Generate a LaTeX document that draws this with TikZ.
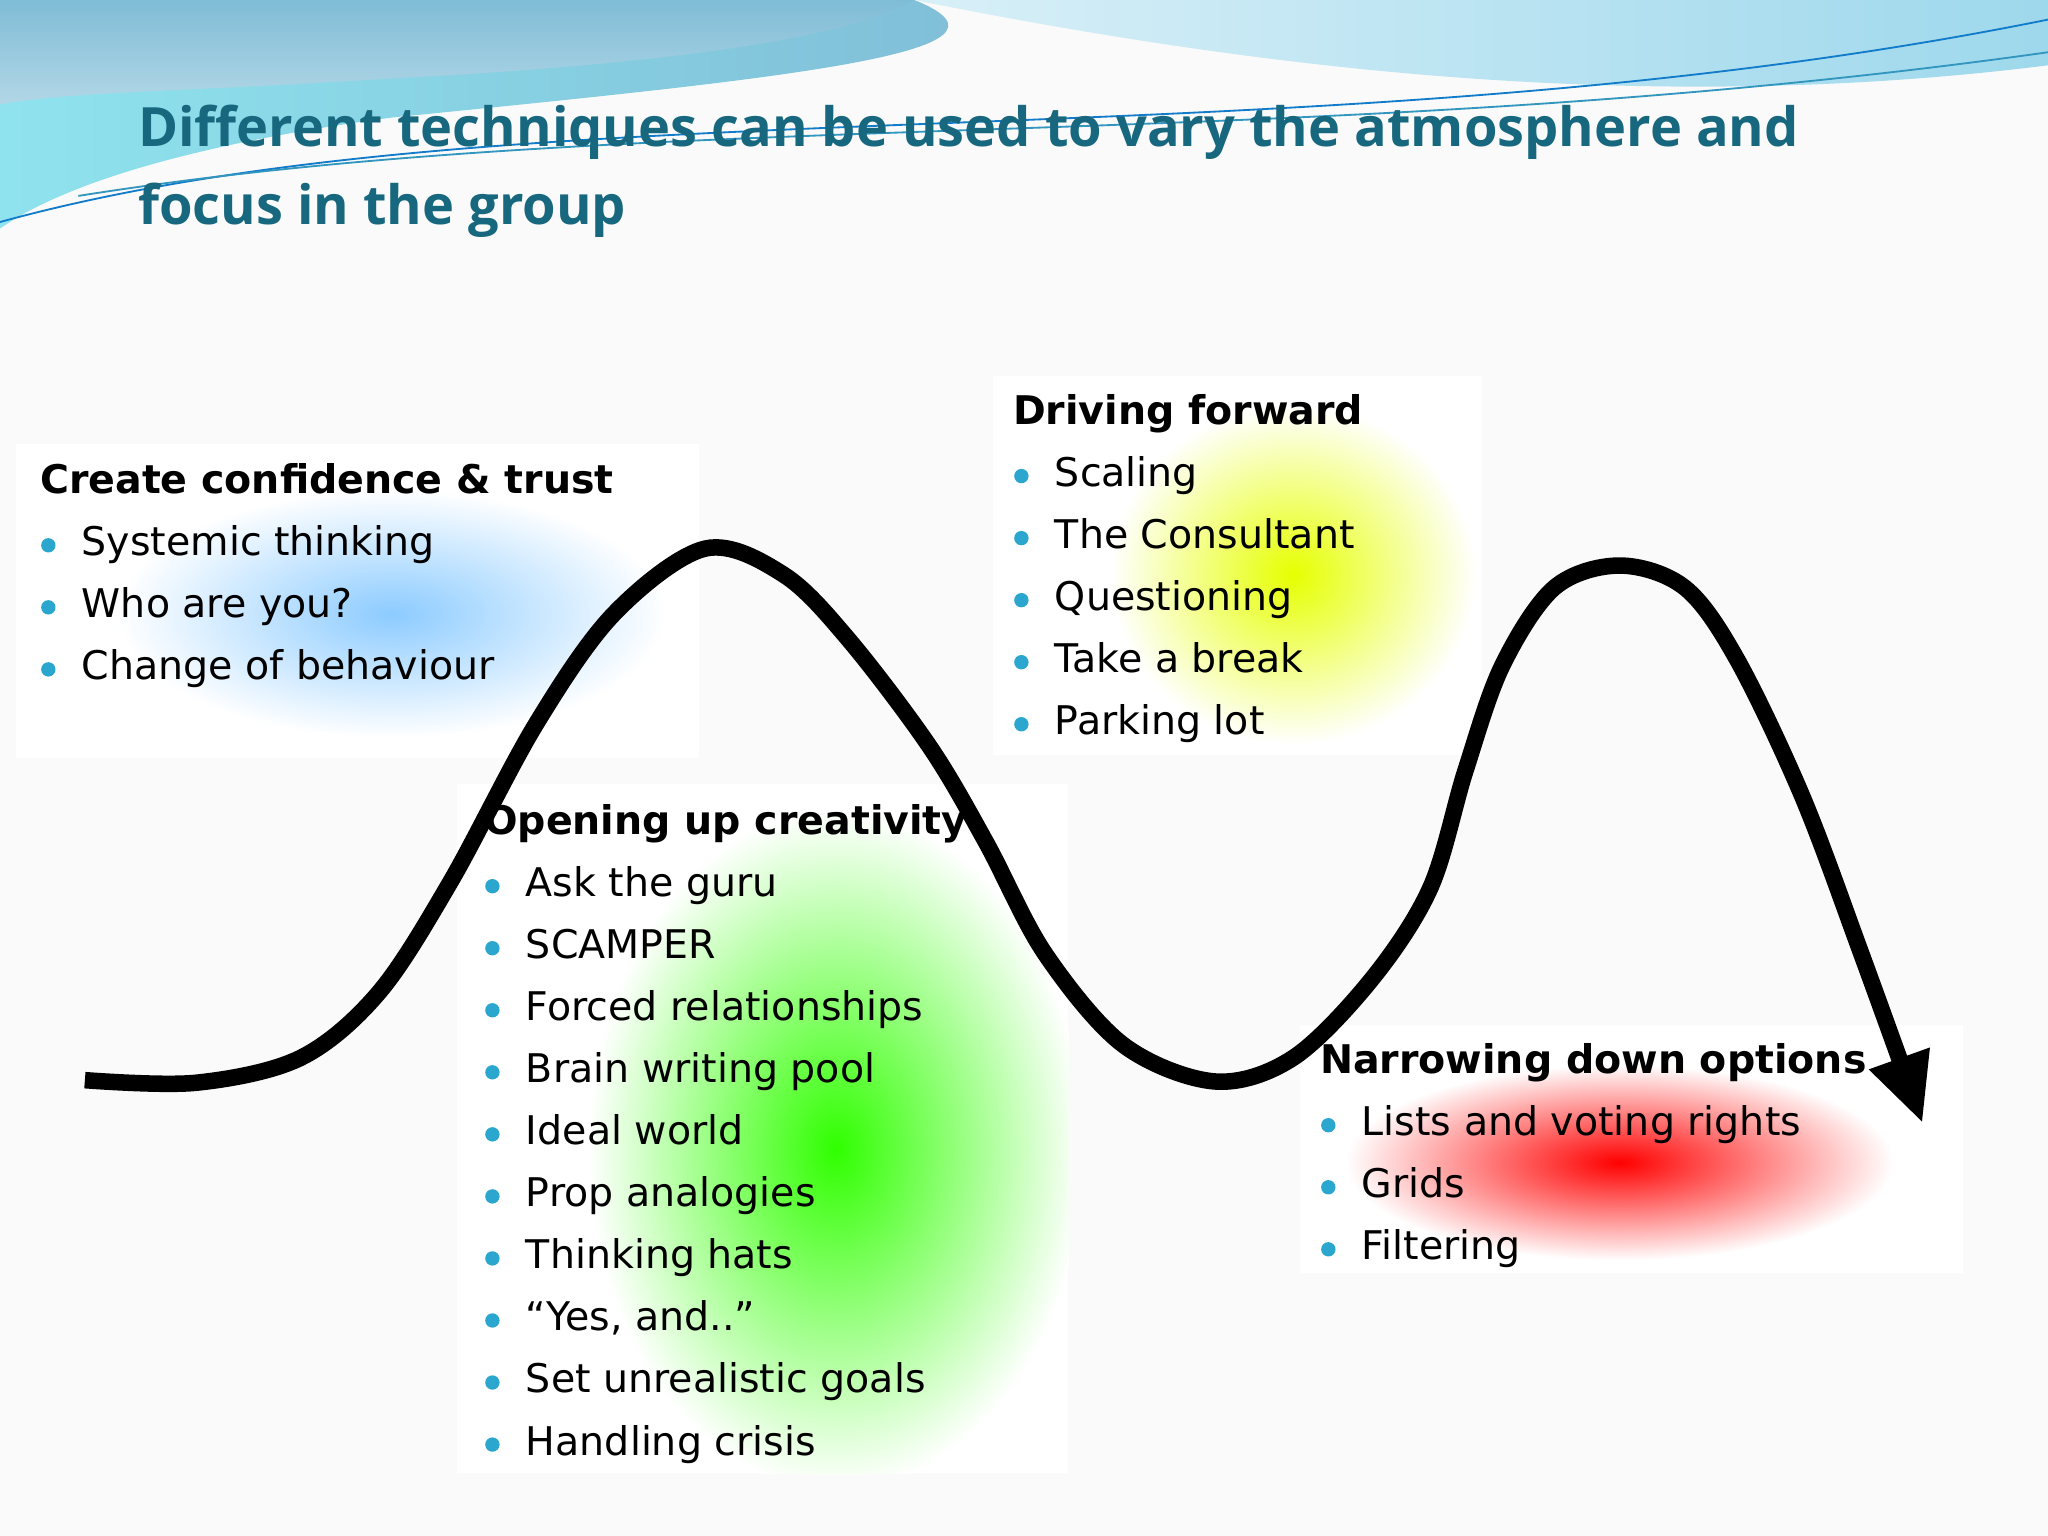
\documentclass[tikz,border=0pt]{standalone}
\usepackage{fontspec}
\setmainfont{DejaVu Sans}
\newfontfamily\titlefont{Open Sans}
\usetikzlibrary{arrows.meta}
\definecolor{titleteal}{HTML}{17687F}
\definecolor{bul}{HTML}{2AA6CF}
\definecolor{wavea}{HTML}{7FBCD6}
\definecolor{waveb}{HTML}{8FE3EE}
\definecolor{wavec}{HTML}{9ED8EC}
\tikzset{
  x=0.01cm, y=-0.01cm,
  head/.style={anchor=base west, font=\fontsize{8.6}{10}\selectfont\bfseries, inner sep=0},
  item/.style={anchor=base west, font=\fontsize{8.6}{10}\selectfont, inner sep=0},
  dot/.style={circle, fill=bul, inner sep=0, minimum size=0.11cm},
  glow/.style={shading=radial, outer color=white}
}
\newcommand{\blist}[4]{% x, y top baseline, name, list
  \foreach \t [count=\i from 0] in {#4} {
    \node[dot] (#3d\i) at (#1+7, #2+\i*47.5-8) {};
    \node[item] (#3t\i) at (#1+32, #2+\i*47.5) {\t};
  }}
\begin{document}
\begin{tikzpicture}
\useasboundingbox (0,0) rectangle (1568,1176);
\fill[white!96!gray] (0,0) rectangle (1568,1176);
% top waves
\shade[left color=waveb, right color=wavea] (0,0) -- (700,0) .. controls (800,40) and (600,60) .. (300,90) .. controls (150,110) and (50,140) .. (0,175) -- cycle;
\shade[left color=wavec!40!white, right color=wavec] (700,0) .. controls (950,50) and (1250,90) .. (1568,50) -- (1568,0) -- cycle;
\shade[top color=wavea, bottom color=wavea!60!white] (0,0) -- (700,0) .. controls (650,30) and (500,50) .. (300,60) .. controls (150,70) and (50,70) .. (0,80) -- cycle;
\fill[white!96!gray] (200,180) .. controls (600,120) and (1200,180) .. (1568,60) -- (1568,175) -- (0,175) -- cycle;
\draw[cyan!60!blue, thin] (0,170) .. controls (400,60) and (1000,130) .. (1568,15);
\draw[cyan!50!teal, thin] (60,150) .. controls (500,80) and (1000,120) .. (1568,40);
% title
\node[anchor=base west, inner sep=0, text=titleteal, font=\titlefont\fontsize{11.8}{17}\selectfont\bfseries, align=left] (title) at (105,172)
 {Different techniques can be used to vary the atmosphere and\\focus in the group};
% white boxes with glows
\fill[white] (12,340) rectangle (535,580);
\fill[white] (760,288) rectangle (1135,578);
\fill[white] (350,600) rectangle (818,1128);
\fill[white] (995,785) rectangle (1503,975);
\begin{scope}\clip (12,340) rectangle (535,580);
\shade[glow, inner color=blue!45!cyan!45!white] (300,470) ellipse (210 and 95);\end{scope}
\begin{scope}\clip (760,288) rectangle (1135,578);
\shade[glow, inner color=yellow!90!green] (990,440) ellipse (140 and 130);\end{scope}
\begin{scope}\clip (350,600) rectangle (818,1128);
\shade[glow, inner color=green!75!lime] (640,880) ellipse (190 and 260);\end{scope}
\begin{scope}\clip (995,785) rectangle (1503,975);
\shade[glow, inner color=red] (1240,890) ellipse (210 and 75);\end{scope}
% curve
\draw[line width=3.6pt, -{Triangle[length=15pt,width=13pt]}] plot[smooth, tension=0.55] coordinates {
 (65,827) (150,829) (230,810) (290,760) (345,675) (410,555) (470,470) (540,420) (600,440) (650,490) (712,572) (755,645) (800,730) (860,800) (930,828) (990,810) (1050,750) (1095,680) (1122,590) (1150,510) (1190,450) (1240,433) (1290,450) (1330,505) (1380,610) (1425,730) (1472,860)};
% texts
\node[head] (h1) at (30,378) {Create confidence \& trust};
\blist{30}{425.5}{a}{Systemic thinking, Who are you?, Change of behaviour}
\node[head] (h2) at (775,325) {Driving forward};
\blist{775}{372.5}{b}{Scaling, The Consultant, Questioning, Take a break, Parking lot}
\node[head] (h3) at (370,639) {Opening up creativity};
\blist{370}{686.5}{c}{Ask the guru, SCAMPER, Forced relationships, Brain writing pool, Ideal world, Prop analogies, Thinking hats, “Yes{,} and..”, Set unrealistic goals, Handling crisis}
\node[head] (h4) at (1010,822) {Narrowing down options};
\blist{1010}{869.5}{d}{Lists and voting rights, Grids, Filtering}
\end{tikzpicture}
\end{document}
